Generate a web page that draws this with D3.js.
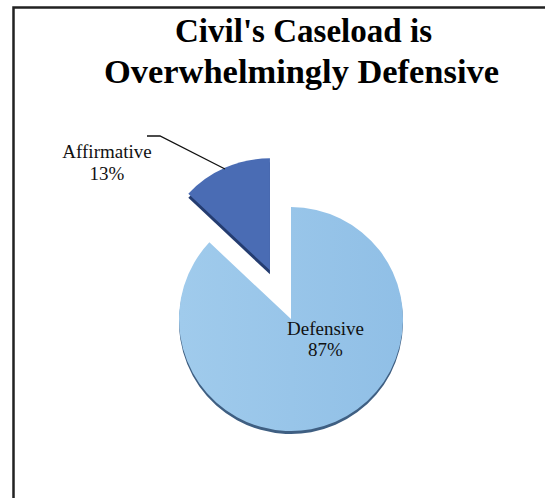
<!DOCTYPE html>
<html>
<head>
<meta charset="utf-8">
<script src="https://cdn.jsdelivr.net/npm/d3@7"></script>
<style>
  html, body { margin: 0; padding: 0; background: #fff; }
  svg { display: block; }
</style>
</head>
<body>
<svg id="chart" width="545" height="498"></svg>
<script>
// ---- data ----
const categories = ["Defensive", "Affirmative"];
const values = [87, 13];
const titleLines = ["Civil's Caseload is", "Overwhelmingly Defensive"];

// ---- layout ----
const W = 545, H = 498;
const cx = 291, cy = 319, R = 112;
const explode = { Affirmative: 53, Defensive: 0 };
const fills = { Defensive: "url(#defGrad)", Affirmative: "#4a6cb4" };
const sides = { Defensive: "#3f5f82", Affirmative: "#243c70" };
const depth = { Defensive: 3, Affirmative: 4 };

const svg = d3.select("#chart");

// border
svg.append("rect")
  .attr("x", 13.5).attr("y", 7.5)
  .attr("width", 700).attr("height", 700)
  .attr("fill", "none").attr("stroke", "#222").attr("stroke-width", 2.5);

// gradient
const defs = svg.append("defs");
const g1 = defs.append("linearGradient").attr("id", "defGrad")
  .attr("x1", "0%").attr("y1", "0%").attr("x2", "100%").attr("y2", "0%");
g1.append("stop").attr("offset", "0%").attr("stop-color", "#a0cbec");
g1.append("stop").attr("offset", "100%").attr("stop-color", "#90bfe6");

// title
const title = svg.append("text")
  .attr("text-anchor", "middle")
  .attr("font-family", "'Liberation Serif', 'Times New Roman', serif")
  .attr("font-weight", "bold")
  .attr("font-size", 33)
  .attr("fill", "#000");
const titleX = [303.5, 301.5], titleY = [42, 83], titleLen = [257, 395];
titleLines.forEach((t, i) => {
  title.append("tspan")
    .attr("x", titleX[i]).attr("y", titleY[i])
    .attr("textLength", titleLen[i])
    .attr("lengthAdjust", "spacingAndGlyphs")
    .text(t);
});

// pie
const data = categories.map((c, i) => ({ cat: c, val: values[i] }));
const pie = d3.pie().sort(null).value(d => d.val).startAngle(0).endAngle(2 * Math.PI);
const arcs = pie(data);
const arc = d3.arc().innerRadius(0).outerRadius(R);

function offset(d) {
  const mid = (d.startAngle + d.endAngle) / 2;
  const e = explode[d.data.cat];
  return [cx + e * Math.sin(mid), cy - e * Math.cos(mid)];
}

const pieG = svg.append("g");
// 3D sides (drawn first, shifted down)
pieG.selectAll("path.side").data(arcs).join("path")
  .attr("class", "side")
  .attr("d", arc)
  .attr("fill", d => sides[d.data.cat])
  .attr("transform", d => { const [x, y] = offset(d); return `translate(${x},${y + depth[d.data.cat]})`; });
// tops
pieG.selectAll("path.top").data(arcs).join("path")
  .attr("class", "top")
  .attr("d", arc)
  .attr("fill", d => fills[d.data.cat])
  .attr("transform", d => { const [x, y] = offset(d); return `translate(${x},${y})`; });

// labels
const labelPos = {
  Defensive: { x: 325.5, y: [335, 356] },
  Affirmative: { x: 107, y: [158, 180] }
};
const fmt = v => Math.round(v) + "%";
const total = d3.sum(values);
data.forEach(d => {
  const p = labelPos[d.cat];
  const t = svg.append("text")
    .attr("text-anchor", "middle")
    .attr("font-family", "'Liberation Serif', 'Times New Roman', serif")
    .attr("font-size", 19)
    .attr("fill", "#111");
  t.append("tspan").attr("x", p.x).attr("y", p.y[0]).text(d.cat);
  t.append("tspan").attr("x", p.x).attr("y", p.y[1]).text(fmt(d.val / total * 100));
});

// leader line for Affirmative
svg.append("path")
  .attr("d", d3.line()([[147, 136], [160, 136], [225, 169]]))
  .attr("fill", "none").attr("stroke", "#111").attr("stroke-width", 1.3);
</script>
</body>
</html>
